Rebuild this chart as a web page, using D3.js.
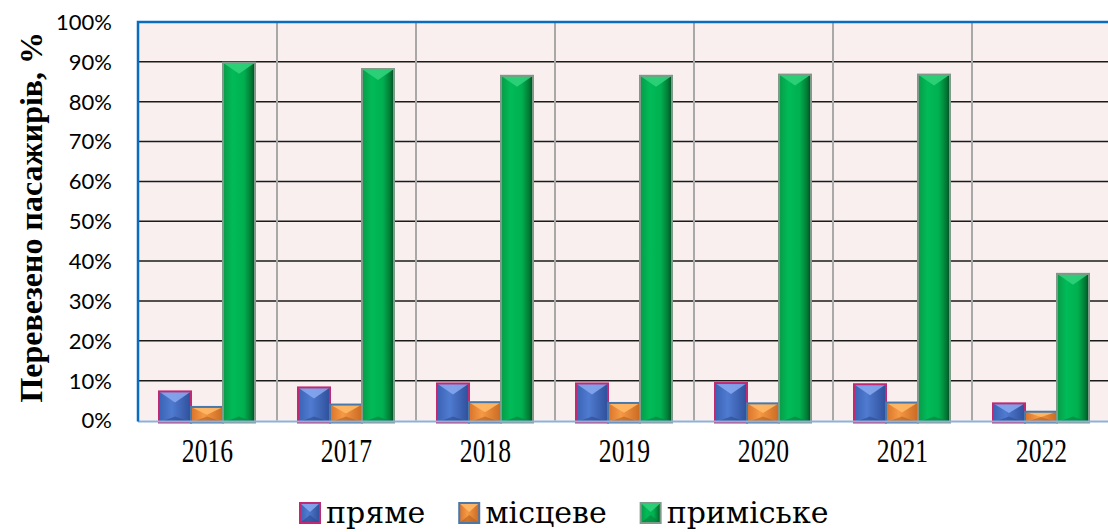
<!DOCTYPE html>
<meta charset="utf-8">
<style>
    body { margin: 0; background: #fff; }
    .ytick { font-family: Lato, "Liberation Sans", sans-serif; font-size: 22px; fill: #000; }
    .xtick { font-family: "Liberation Serif", serif; font-size: 27px; fill: #000; }
    .ytitle { font-family: "Liberation Serif", serif; font-size: 32px; font-weight: bold; fill: #000; }
</style>
<svg width="1108" height="532"></svg>
<script src="https://d3js.org/d3.v7.min.js"></script>
<script>

    // data (% of passengers)
    var years = ["2016", "2017", "2018", "2019", "2020", "2021", "2022"];
    var seriesNames = ["пряме", "місцеве", "приміське"];
    var direct = [7.3, 8.3, 9.3, 9.3, 9.4, 9.1, 4.3];
    var local = [3.4, 4.0, 4.6, 4.4, 4.3, 4.5, 2.2];
    var suburban = [89.8, 88.2, 86.5, 86.5, 86.8, 86.8, 36.8];
    var yTicks = [0, 10, 20, 30, 40, 50, 60, 70, 80, 90, 100];

    var seriesValues = [direct, local, suburban];

    var svg = d3.select("svg");

    var plot = { left: 138, right: 1111, top: 22, bottom: 420.5 };

    var x0 = d3.scaleBand()
        .domain(years)
        .range([plot.left, plot.right]);

    var x1 = d3.scaleBand()
        .domain(seriesNames)
        .range([21, 117]);

    var y = d3.scaleLinear()
        .domain([0, 100])
        .range([plot.bottom, plot.top]);

    var defs = svg.append("defs");

    function hGrad(id, stops) {
        var g = defs.append("linearGradient").attr("id", id)
            .attr("x1", "0%").attr("x2", "100%").attr("y1", "0%").attr("y2", "0%");
        stops.forEach(function (s) {
            g.append("stop").attr("offset", s[0]).attr("stop-color", s[1]);
        });
    }
    hGrad("gGreen", [["0%", "#0a9a48"], ["30%", "#00bb58"], ["65%", "#00b050"], ["88%", "#007a35"], ["100%", "#004a20"]]);
    hGrad("gBlue", [["0%", "#3a62b4"], ["40%", "#4f7bd0"], ["100%", "#2f4f9a"]]);
    hGrad("gOrange", [["0%", "#d9732a"], ["40%", "#f59a45"], ["100%", "#c96a22"]]);

    var styles = {
        "пряме": { fill: "url(#gBlue)", stroke: "#c02a72", top: "#86a6ee", bottom: "#2d4a90" },
        "місцеве": { fill: "url(#gOrange)", stroke: "#4a78a8", top: "#ffb968", bottom: "#b85e1c" },
        "приміське": { fill: "url(#gGreen)", stroke: "#7f9a88", top: "#2fd27a", bottom: "#00803a" }
    };

    // plot background
    svg.append("rect")
        .attr("x", plot.left).attr("y", plot.top)
        .attr("width", plot.right - plot.left).attr("height", plot.bottom - plot.top)
        .attr("fill", "#f9efef");

    // horizontal gridlines
    svg.append("g").selectAll("line")
        .data(yTicks.filter(function (d) { return d > 0 && d < 100; }))
        .enter().append("line")
        .attr("x1", plot.left).attr("x2", plot.right)
        .attr("y1", function (d) { return y(d); })
        .attr("y2", function (d) { return y(d); })
        .attr("stroke", "#1a1a1a")
        .attr("stroke-width", 1.5);

    // category separators
    svg.append("g").selectAll("line")
        .data(years.slice(1))
        .enter().append("line")
        .attr("x1", function (d) { return x0(d); })
        .attr("x2", function (d) { return x0(d); })
        .attr("y1", plot.top).attr("y2", plot.bottom)
        .attr("stroke", "#a8a8a8")
        .attr("stroke-width", 2);

    // y tick labels
    svg.append("g").selectAll("text")
        .data(yTicks)
        .enter().append("text")
        .attr("class", "ytick")
        .attr("x", 112)
        .attr("y", function (d) { return y(d); })
        .attr("dy", "0.36em")
        .attr("text-anchor", "end")
        .text(function (d) { return d + "%"; });

    // bars
    var bars = [];
    years.forEach(function (yr, i) {
        seriesNames.forEach(function (s, j) {
            bars.push({ year: yr, series: s, value: seriesValues[j][i] });
        });
    });

    var bar = svg.append("g").selectAll("g")
        .data(bars)
        .enter().append("g");

    bar.each(function (d) {
        var g = d3.select(this);
        var st = styles[d.series];
        var bx = x0(d.year) + x1(d.series);
        var bw = x1.bandwidth();
        var top = y(d.value);
        var bottom = plot.bottom + 2;
        var h = bottom - top;
        var dep = Math.min(11, h / 2);
        g.append("rect")
            .attr("x", bx).attr("y", top)
            .attr("width", bw).attr("height", h)
            .attr("fill", st.fill);
        // top bevel
        g.append("path")
            .attr("d", "M" + bx + "," + top + "L" + (bx + bw) + "," + top +
                "L" + (bx + bw / 2) + "," + (top + dep) + "Z")
            .attr("fill", st.top)
            .attr("opacity", 0.9);
        // bottom bevel
        g.append("path")
            .attr("d", "M" + bx + "," + bottom + "L" + (bx + bw) + "," + bottom +
                "L" + (bx + bw / 2) + "," + (bottom - Math.min(6, h / 2)) + "Z")
            .attr("fill", st.bottom)
            .attr("opacity", 0.6);
        g.append("rect")
            .attr("x", bx).attr("y", top)
            .attr("width", bw).attr("height", h)
            .attr("fill", "none")
            .attr("stroke", st.stroke)
            .attr("stroke-width", 2);
    });

    // borders
    svg.append("line")
        .attr("x1", plot.left).attr("x2", plot.right)
        .attr("y1", plot.bottom + 1).attr("y2", plot.bottom + 1)
        .attr("stroke", "#8fb0d8").attr("stroke-width", 2);
    svg.append("path")
        .attr("d", "M" + plot.left + "," + (plot.bottom + 1) + "V" + plot.top + "H" + plot.right + "V" + (plot.bottom + 1))
        .attr("fill", "none")
        .attr("stroke", "#0a6cbf")
        .attr("stroke-width", 2.5);

    // x tick labels
    svg.append("g").selectAll("text")
        .data(years)
        .enter().append("text")
        .attr("class", "xtick")
        .attr("transform", function (d) {
            return "translate(" + (x0(d) + x0.bandwidth() / 2) + ",462) scale(0.95,1.25)";
        })
        .attr("text-anchor", "middle")
        .text(function (d) { return d; });

    // y title
    svg.append("text")
        .attr("class", "ytitle")
        .attr("transform", "translate(42," + ((plot.top + plot.bottom) / 2 - 4) + ") rotate(-90)")
        .attr("text-anchor", "middle")
        .text("Перевезено пасажирів, %");

    // legend
    var legend = svg.append("g");
    var lx = 300;
    seriesNames.forEach(function (s) {
        var st = styles[s];
        var item = legend.append("g").attr("transform", "translate(" + lx + ",503)");
        item.append("rect").attr("width", 20).attr("height", 20).attr("fill", st.fill);
        item.append("path").attr("d", "M0,0L20,0L10,9Z").attr("fill", st.top).attr("opacity", 0.9);
        item.append("path").attr("d", "M0,20L20,20L10,12Z").attr("fill", st.bottom).attr("opacity", 0.6);
        item.append("rect").attr("width", 20).attr("height", 20)
            .attr("fill", "none").attr("stroke", st.stroke).attr("stroke-width", 2);
        var t = item.append("text")
            .attr("x", 26).attr("y", 20)
            .attr("font-family", "'DejaVu Serif', serif")
            .attr("font-size", 30)
            .attr("fill", "#000")
            .text(s);
        lx += 26 + t.node().getComputedTextLength() + 34;
    });

</script>
